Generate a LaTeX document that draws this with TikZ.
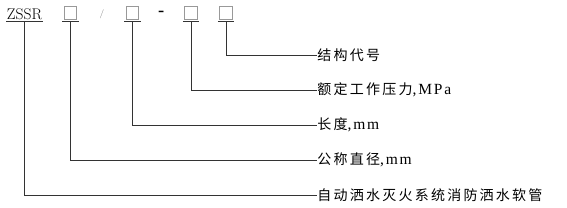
\documentclass[tikz,border=0pt]{standalone}
\usepackage{fontspec}
\newfontfamily\cjk[LetterSpace=16]{Noto Sans CJK SC}
\newfontfamily\latfont[LetterSpace=12]{Liberation Serif}
\newcommand\lat[1]{{\fontsize{15.5}{16}\latfont #1}}

\begin{document}
\begin{tikzpicture}[x=1pt,y=-1pt,line width=0.7pt,
    codebox/.style={draw=gray!80,line width=0.6pt,minimum size=12.5pt,inner sep=0},
    lbl/.style={anchor=west,inner sep=0,font=\fontsize{14}{16}\selectfont}]
  \useasboundingbox (0,0) rectangle (567,207);
  \node[inner sep=0,font=\fontsize{15.5}{17}\selectfont] (zssr) at (24.5,14) {ZSSR};
  \draw[black!80] ([xshift=-0.5pt,yshift=-1.5pt]zssr.south west) -- ([xshift=0.5pt,yshift=-1.5pt]zssr.south east);
  \node[inner sep=0,text=gray,font=\fontsize{9}{10}\selectfont] (slash) at (102,14.5) {/};
  \node[inner sep=0,text=black,font=\fontsize{16}{16}\bfseries] (dash) at (161.5,13) {-};
  \foreach \n/\x in {1/70.5,2/132.5,3/191,4/226}
  {
    \node[codebox] (b\n) at (\x,13) {};
    \draw[black!80] ([xshift=-1.5pt,yshift=-1.5pt]b\n.south west) -- ([xshift=1.5pt,yshift=-1.5pt]b\n.south east);
  }
  \node[lbl] (l4) at (317,55) {\cjk 结构代号};
  \node[lbl] (l3) at (317,90) {{\cjk 额定工作压力}\lat{,MPa}};
  \node[lbl] (l2) at (317,125) {{\cjk 长度}\lat{,mm}};
  \node[lbl] (l1) at (317,160) {{\cjk 公称直径}\lat{,mm}};
  \node[lbl] (l0) at (317,195) {\cjk 自动洒水灭火系统消防洒水软管};
  \foreach \n in {1,2,3,4}
    \draw[black!80] ([yshift=-1.5pt]b\n.south) |- (l\n.west);
  \draw[black!80] ([yshift=-1.5pt]zssr.south) |- (l0.west);
\end{tikzpicture}
\end{document}
